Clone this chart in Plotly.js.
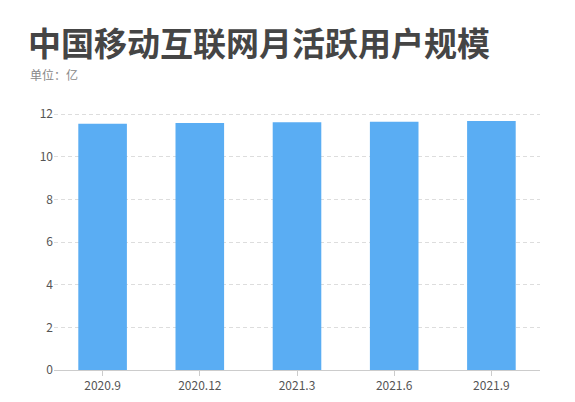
<!DOCTYPE html>
<html>
<head>
<meta charset="utf-8">
<script src="https://cdn.plot.ly/plotly-3.0.1.min.js"></script>
<style>
  html, body { margin: 0; padding: 0; background: #fff; }
  #chart { width: 575px; height: 402px; }
</style>
</head>
<body>
<div id="chart"></div>
<script>
// 月活跃用户（亿）
const periods = ['2020.9', '2020.12', '2021.3', '2021.6', '2021.9'];
const users = [11.55, 11.58, 11.62, 11.64, 11.68];
const yTicks = [0, 2, 4, 6, 8, 10, 12];

const font = '"Noto Sans CJK SC", "Noto Sans", sans-serif';

Plotly.newPlot('chart', [{
    type: 'bar',
    x: periods,
    y: users,
    marker: { color: '#5aadf3' },
    hoverinfo: 'x+y'
}], {
    width: 575,
    height: 402,
    margin: { l: 54, r: 35, t: 112, b: 32 },
    paper_bgcolor: '#fff',
    plot_bgcolor: '#fff',
    bargap: 0.5,
    showlegend: false,
    font: { family: font, color: '#555', size: 12 },
    title: {
        text: '<b>中国移动互联网月活跃用户规模</b>',
        font: { family: font, size: 33, color: '#454545' },
        x: 28 / 575, xanchor: 'left', xref: 'container',
        y: 1 - 44 / 402, yanchor: 'middle', yref: 'container'
    },
    annotations: [{
        text: '单位：亿',
        xref: 'paper', yref: 'paper',
        x: (28 - 54) / 486, y: 1 + (112 - 74) / 258,
        xanchor: 'left', yanchor: 'middle',
        showarrow: false,
        font: { family: font, size: 12, color: '#888' }
    }],
    xaxis: {
        type: 'category',
        showline: true, linecolor: '#ccc', linewidth: 1,
        ticks: 'outside', ticklen: 5, tickcolor: '#ccc',
        tickfont: { size: 12, color: '#555' },
        showgrid: false, zeroline: false
    },
    yaxis: {
        range: [0, 12.1],
        tickvals: yTicks,
        ticktext: yTicks.map(String),
        showgrid: true, gridcolor: '#ddd', griddash: '4px,3px',
        zeroline: false, showline: false, ticks: '',
        tickfont: { size: 12, color: '#555' }
    }
}, { displayModeBar: false, staticPlot: true });
</script>
</body>
</html>
